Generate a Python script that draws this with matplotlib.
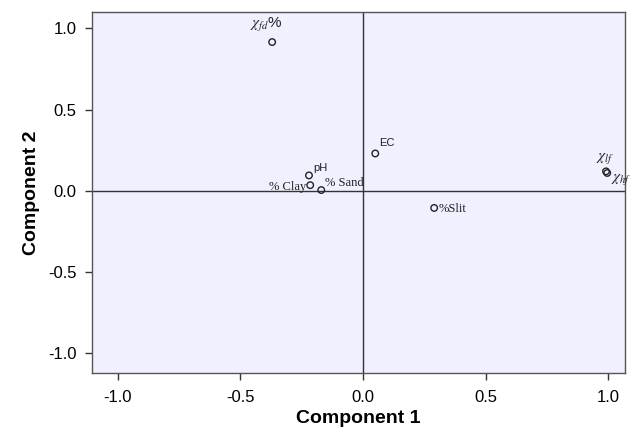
import matplotlib
matplotlib.use("Agg")
import matplotlib.pyplot as plt

# loadings
names = [r"$\chi_{fd}$%", "EC", "pH", "% Clay", "% Sand", "%Slit", r"$\chi_{lf}$", r"$\chi_{hf}$"]
comp1 = [-0.37, 0.05, -0.22, -0.215, -0.17, 0.29, 0.99, 0.995]
comp2 = [0.915, 0.23, 0.095, 0.035, 0.005, -0.105, 0.12, 0.11]

# label offsets in points and alignment
offsets = [(-4, 6), (3, 4), (3, 2), (-3, -1), (3, 1), (3, -1), (-1, 4), (3, -5)]
aligns = [("center", "bottom"), ("left", "bottom"), ("left", "bottom"), ("right", "center"),
          ("left", "bottom"), ("left", "center"), ("center", "bottom"), ("left", "center")]

plt.rcParams["font.family"] = ["Liberation Sans", "DejaVu Sans"]
plt.rcParams["mathtext.fontset"] = "stix"

fig = plt.figure(figsize=(6.37, 4.33), dpi=100)
ax = fig.add_axes([0.1444, 0.1386, 0.8366, 0.8337])
ax.set_facecolor("#f0f0fe")

ax.axhline(0, color="#333333", lw=1.0, zorder=1)
ax.axvline(0, color="#333333", lw=1.0, zorder=1)

ax.scatter(comp1, comp2, s=22, facecolors="none", edgecolors="#222222", linewidths=1.0, zorder=3)

for n, x, y, off, al in zip(names, comp1, comp2, offsets, aligns):
    fam = "Liberation Serif" if n in ("% Clay", "% Sand", "%Slit") else "Liberation Sans"
    if n.startswith("$"):
        fs = 11
    elif n in ("EC", "pH"):
        fs = 8
    else:
        fs = 9
    ax.annotate(n, (x, y), xytext=off, textcoords="offset points", ha=al[0], va=al[1],
                fontsize=fs, family=fam, color="#222222")

ax.set_xlim(-1.104, 1.067)
ax.set_ylim(-1.12, 1.10)
ax.set_xticks([-1.0, -0.5, 0.0, 0.5, 1.0])
ax.set_yticks([-1.0, -0.5, 0.0, 0.5, 1.0])
ax.set_xticklabels(["-1.0", "-0.5", "0.0", "0.5", "1.0"])
ax.set_yticklabels(["-1.0", "-0.5", "0.0", "0.5", "1.0"])
ax.tick_params(labelsize=12, length=5, width=1, color="#333333")
ax.tick_params(axis="x", pad=7)
ax.tick_params(axis="y", pad=6)
for sp in ax.spines.values():
    sp.set_color("#555555")
    sp.set_linewidth(1.0)

ax.set_xlabel("Component 1", fontsize=14, fontweight="bold", labelpad=4)
ax.set_ylabel("Component 2", fontsize=14, fontweight="bold", labelpad=6)

fig.savefig("out.png", dpi=100)
